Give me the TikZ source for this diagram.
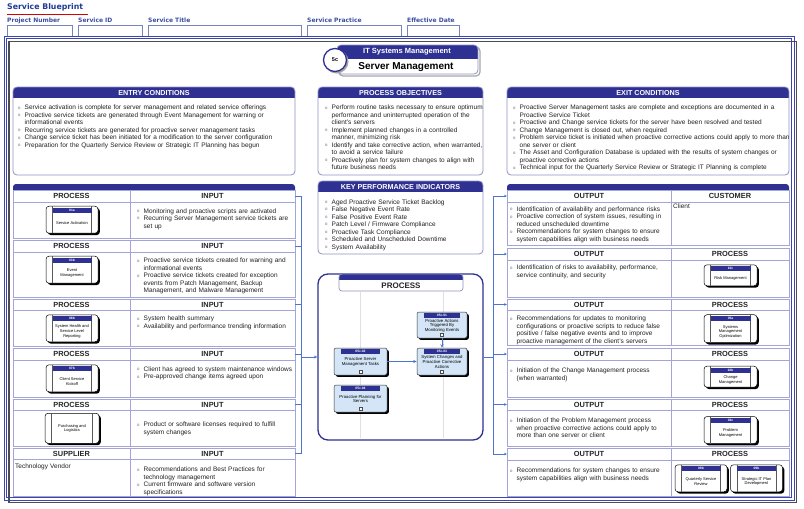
\documentclass[tikz,border=0pt]{standalone}
\usepackage{fontspec}
\setmainfont{Liberation Sans}
\newfontfamily\dvb{DejaVu Sans}
\usetikzlibrary{arrows.meta}
\definecolor{navy}{HTML}{2E3192}
\definecolor{lav}{HTML}{A3A5D8}
\definecolor{boxb}{HTML}{8F91C6}
\definecolor{hblue}{HTML}{1F3C96}
\definecolor{fieldc}{HTML}{3C4FA0}
\definecolor{connc}{HTML}{4F74D0}
\definecolor{txtc}{HTML}{222222}
\definecolor{bulc}{HTML}{666688}
\definecolor{cfill}{HTML}{D3E5F7}
\definecolor{framec}{HTML}{3B44B0}

\newcommand\bi{\par\noindent\hbox to 6.5pt{\raisebox{0.6pt}{\color{bulc}\fontsize{4.3}{4.3}\selectfont o}\hfil}}
\newcommand\nl{\hfil\break\hspace*{6.5pt}}

\newcommand\condbox[6]{%
  \begin{scope}
    \clip[rounded corners=4pt] (#2,#3) rectangle (#4,#5);
    \fill[white] (#2,#3) rectangle (#4,#5);
    \fill[navy] (#2,#3) rectangle (#4,#3+11);
  \end{scope}
  \draw[boxb, line width=0.8pt, rounded corners=4pt] (#2,#3) rectangle (#4,#5);
  \node[hd] (#1) at ({(#2+#4)/2},#3+5.8) {#6};
}

\newcommand\trow[6]{%
  \draw[tline] (\TXa,#2) rectangle (\TXb,#4);
  \draw[tline] (\TXa,#3) -- (\TXb,#3) (\TXd,#2) -- (\TXd,#4);
  \node[colhd] (#1-a) at ({(\TXa+\TXd)/2},{(#2+#3)/2}) {#5};
  \node[colhd] (#1-b) at ({(\TXd+\TXb)/2},{(#2+#3)/2}) {#6};
  \coordinate (#1-w) at (\TXa,{(#2+#3)/2});
  \coordinate (#1-e) at (\TXb,{(#2+#3)/2});
}

\newcommand\pbox[7]{%
  \begin{scope}[shift={(#2,#3)}]
    \pgfmathsetmacro\hw{#4/2}\pgfmathsetmacro\hh{#5/2}
    \fill[black, rounded corners=3pt] (-\hw+1.8,-\hh+1.8) rectangle (\hw+1.8,\hh+1.8);
    \node[draw=black, line width=0.5pt, fill=white, rounded corners=3pt, minimum width=#4pt, minimum height=#5pt, inner sep=0pt] (#1) at (0,0) {};
    \draw[black!65, line width=0.4pt] (-\hw+6.5,-\hh) -- (-\hw+6.5,\hh) (\hw-6.5,-\hh) -- (\hw-6.5,\hh);
    \ifx&#6&
      \node[ptext] (#1-t) at (0,0) {#7};
    \else
      \fill[navy] (-\hw+6.5,-\hh+1.3) rectangle (\hw-6.5,-\hh+6.3);
      \node[plabel] (#1-l) at (0,-\hh+3.8) {#6};
      \node[ptext] (#1-t) at (0,3.15) {#7};
    \fi
  \end{scope}}

\newcommand\cbox[7]{%
  \begin{scope}[shift={(#2,#3)}]
    \pgfmathsetmacro\hw{#4/2}\pgfmathsetmacro\hh{#5/2}
    \fill[black, rounded corners=2pt] (-\hw+1.8,-\hh+1.8) rectangle (\hw+1.8,\hh+1.8);
    \node[draw=black!80, line width=0.5pt, fill=cfill, rounded corners=2pt, minimum width=#4pt, minimum height=#5pt, inner sep=0pt] (#1) at (0,0) {};
    \fill[navy] (-\hw+7,-\hh+1.3) rectangle (\hw-7,-\hh+5.5);
    \node[plabel] (#1-l) at (0,-\hh+3.4) {#6};
    \node[ctext] (#1-t) at (0,0.6) {#7};
    \draw[black!70, line width=0.3pt, fill=white] (-1.6,\hh-4.4) rectangle (1.6,\hh-1.7);
  \end{scope}}

\begin{document}
\begin{tikzpicture}[x=1pt,y=-1pt,
  txt/.style={anchor=north west, inner sep=0pt, align=left, text width=#1, font=\fontsize{6.5}{7.5}\selectfont, text=txtc},
  txt/.default=170pt,
  hd/.style={font=\bfseries\fontsize{7.2}{7.2}\selectfont, text=white, inner sep=0pt},
  colhd/.style={font=\bfseries\fontsize{7.4}{7.4}\selectfont, text=black!85, inner sep=0pt},
  tline/.style={draw=lav, line width=0.7pt},
  conn/.style={draw=connc, line width=0.6pt},
  plabel/.style={font=\bfseries\fontsize{3.3}{3.3}\selectfont, text=white, inner sep=0pt},
  ptext/.style={font=\fontsize{4}{4.6}\selectfont, align=center, inner sep=0pt, text=black},
  ctext/.style={font=\fontsize{4.3}{4.7}\selectfont, align=center, inner sep=0pt, text=black},
  field/.style={draw=fieldc!70, line width=0.5pt, anchor=north west, minimum height=11pt, inner sep=0pt},
  flabel/.style={anchor=west, inner sep=0pt, font=\dvb\bfseries\fontsize{6}{6}\selectfont, text=fieldc},
  tip/.style={-{Stealth[length=3.5pt,width=3pt]}}
]
\useasboundingbox (0,0) rectangle (804,509);
\fill[white] (0,0) rectangle (804,509);

% ---------- header ----------
\node[anchor=west, inner sep=0pt, font=\dvb\bfseries\fontsize{7.8}{7.8}\selectfont, text=hblue] (sb) at (7,7.5) {Service Blueprint};
\draw[red!85!black, line width=0.9pt] (7,14.5) -- (88,14.5);
\foreach \x/\w/\lab/\nm in {7/65/Project Number/f1, 78/64/Service ID/f2, 148/153/Service Title/f3, 307/94/Service Practice/f4, 407/52/Effective Date/f5} {
  \node[flabel] (\nm-l) at (\x,20.5) {\lab};
  \node[field, minimum width={\w*1pt}] (\nm) at (\x,25) {};
}

% ---------- outer frame ----------
\draw[black!70, line width=1.6pt] (9,41.5) rectangle (796.5,502.5);
\draw[framec, line width=0.8pt] (4,36) rectangle (794,500);
\draw[framec, line width=0.8pt] (6.5,38.5) rectangle (791.5,497.5);

% ---------- title ----------
\draw[black!35, line width=1.2pt, rounded corners=4pt] (339,47) rectangle (480,76);
\begin{scope}
  \clip[rounded corners=4pt] (337,45) rectangle (478,74);
  \fill[white] (337,45) rectangle (478,74);
  \fill[navy] (337,45) rectangle (478,59);
\end{scope}
\draw[boxb, line width=0.8pt, rounded corners=4pt] (337,45) rectangle (478,74);
\fill[black!35] (336.5,61.5) circle (12);
\node[circle, draw=navy, line width=1.3pt, fill=white, minimum size=23pt, inner sep=0pt, font=\bfseries\fontsize{5.5}{5.5}\selectfont] (c5) at (335,60) {5c};
\node[font=\bfseries\fontsize{7.5}{7.5}\selectfont, text=white, inner sep=0pt] (t1) at (407,52) {IT Systems Management};
\node[font=\bfseries\fontsize{10}{10}\selectfont, text=black, inner sep=0pt] (t2) at (406,67) {Server Management};

% ---------- condition boxes ----------
\condbox{entry}{13}{87}{295}{175}{ENTRY CONDITIONS}
\node[txt=280pt] (entryt) at (18,102) {%
\bi Service activation is complete for server management and related service offerings
\bi Proactive service tickets are generated through Event Management for warning or\nl informational events
\bi Recurring service tickets are generated for proactive server management tasks
\bi Change service ticket has been initiated for a modification to the server configuration
\bi Preparation for the Quarterly Service Review or Strategic IT Planning has begun};

\condbox{obj}{318}{87}{483}{175}{PROCESS OBJECTIVES}
\node[txt=175pt] (objt) at (325,102) {%
\bi Perform routine tasks necessary to ensure optimum\nl performance and uninterrupted operation of the\nl client's servers
\bi Implement planned changes in a controlled\nl manner, minimizing risk
\bi Identify and take corrective action, when warranted,\nl to avoid a service failure
\bi Proactively plan for system changes to align with\nl future business needs};

\condbox{exit}{507}{87}{789}{175}{EXIT CONDITIONS}
\node[txt=290pt] (exitt) at (513,102) {%
\bi Proactive Server Management tasks are complete and exceptions are documented in a\nl Proactive Service Ticket
\bi Proactive and Change service tickets for the server have been resolved and tested
\bi Change Management is closed out, when required
\bi Problem service ticket is initiated when proactive corrective actions could apply to more than\nl one server or client
\bi The Asset and Configuration Database is updated with the results of system changes or\nl proactive corrective actions
\bi Technical input for the Quarterly Service Review or Strategic IT Planning is complete};

\condbox{kpi}{318}{181}{483}{254}{KEY PERFORMANCE INDICATORS}
\node[txt=160pt] (kpit) at (325,196.3) {%
\bi Aged Proactive Service Ticket Backlog
\bi False Negative Event Rate
\bi False Positive Event Rate
\bi Patch Level / Firmware Compliance
\bi Proactive Task Compliance
\bi Scheduled and Unscheduled Downtime
\bi System Availability};

% ---------- left table ----------
\begin{scope}
  \clip (13,184) rectangle (295,190);
  \fill[navy, rounded corners=3pt] (13,184) rectangle (295,196);
\end{scope}
\def\TXa{13}\def\TXd{130}\def\TXb{295}
\trow{lr1}{190}{202}{238}{PROCESS}{INPUT}
\trow{lr2}{240}{252}{297}{PROCESS}{INPUT}
\trow{lr3}{299}{310}{346}{PROCESS}{INPUT}
\trow{lr4}{348}{360}{397}{PROCESS}{INPUT}
\trow{lr5}{399}{410}{446}{PROCESS}{INPUT}
\trow{lr6}{448}{459}{496}{SUPPLIER}{INPUT}

\node[txt] (lt1) at (137,205.3) {\bi Monitoring and proactive scripts are activated
\bi Recurring Server Management service tickets are\nl set up};
\node[txt] (lt2) at (137,255) {\bi Proactive service tickets created for warning and\nl informational events
\bi Proactive service tickets created for exception\nl events from Patch Management, Backup\nl Management, and Malware Management};
\node[txt] (lt3) at (137,313) {\bi System health summary
\bi Availability and performance trending information};
\node[txt] (lt4) at (137,363.7) {\bi Client has agreed to system maintenance windows
\bi Pre-approved change items agreed upon};
\node[txt] (lt5) at (137,419) {\bi Product or software licenses required to fulfill\nl system changes};
\node[txt] (lt6) at (137,464) {\bi Recommendations and Best Practices for\nl technology management
\bi Current firmware and software version\nl specifications};
\node[txt=110pt] (supp) at (15,464) {Technology Vendor};

\pbox{lp1}{72}{219.7}{52}{27}{01a}{Service Activation}
\pbox{lp2}{72}{269.7}{52}{27}{03b}{Event\\Management}
\pbox{lp3}{72}{328.3}{52}{27}{08b}{System Health and\\Service Level\\Reporting}
\pbox{lp4}{72}{378.3}{52}{27}{07b}{Client Service\\Kickoff}
\pbox{lp5}{72}{428.3}{54}{30}{}{Purchasing and\\Logistics}

% ---------- right table ----------
\begin{scope}
  \clip (507,184) rectangle (789,190);
  \fill[navy, rounded corners=3pt] (507,184) rectangle (789,196);
\end{scope}
\def\TXa{507}\def\TXd{671}\def\TXb{789}
\trow{rr1}{190}{202}{245}{OUTPUT}{CUSTOMER}
\trow{rr2}{248}{260}{297}{OUTPUT}{PROCESS}
\trow{rr3}{299}{310}{345}{OUTPUT}{PROCESS}
\trow{rr4}{348}{360}{397}{OUTPUT}{PROCESS}
\trow{rr5}{399}{410}{446}{OUTPUT}{PROCESS}
\trow{rr6}{448}{460}{496}{OUTPUT}{PROCESS}

\node[txt] (rt1) at (510,203.7) {\bi Identification of availability and performance risks
\bi Proactive correction of system issues, resulting in\nl reduced unscheduled downtime
\bi Recommendations for system changes to ensure\nl system capabilities align with business needs};
\node[txt=100pt] (cust) at (673,203.7) {Client};
\node[txt] (rt2) at (510,262) {\bi Identification of risks to availability, performance,\nl service continuity, and security};
\node[txt] (rt3) at (510,313) {\bi Recommendations for updates to monitoring\nl configurations or proactive scripts to reduce false\nl positive / false negative events and to improve\nl proactive management of the client's servers};
\node[txt] (rt4) at (510,365) {\bi Initiation of the Change Management process\nl (when warranted)};
\node[txt] (rt5) at (510,415) {\bi Initiation of the Problem Management process\nl when proactive corrective actions could apply to\nl more than one server or client};
\node[txt] (rt6) at (510,465) {\bi Recommendations for system changes to ensure\nl system capabilities align with business needs};

\pbox{rp2}{730.5}{275.3}{53}{21}{10c}{Risk Management}
\pbox{rp3}{730.5}{328.7}{53}{28}{05a}{Systems\\Management\\Optimization}
\pbox{rp4}{730.5}{376.7}{53}{21}{10b}{Change\\Management}
\pbox{rp5}{730.5}{430}{53}{27}{03c}{Problem\\Management}
\pbox{rp6a}{701}{478.3}{52}{27}{09b}{Quarterly Service\\Review}
\pbox{rp6b}{756.5}{478.3}{52}{27}{09b}{Strategic IT Plan\\Development}

% ---------- central process ----------
\node[draw=navy, line width=1.3pt, rounded corners=10pt, minimum width=165pt, minimum height=166pt, inner sep=0pt] (proc) at (400.5,357) {};
\draw[black!12, line width=0.5pt] (360,292) -- (360,438) (443,292) -- (443,438);
\begin{scope}
  \clip[rounded corners=3pt] (339,274) rectangle (463,291);
  \fill[white] (339,274) rectangle (463,291);
  \fill[navy] (339,274) rectangle (463,280);
\end{scope}
\draw[boxb, line width=0.7pt, rounded corners=3pt] (339,274) rectangle (463,291);
\node[colhd, font=\bfseries\fontsize{8}{8}\selectfont] (ptitle) at (401,285.8) {PROCESS};

\cbox{c1}{442}{325}{50}{26}{05c.01}{Proactive Actions\\Triggered By\\Monitoring Events}
\cbox{c2}{360.5}{361.5}{53}{27}{05c.02}{Proactive Server\\Management Tasks}
\cbox{c3}{442}{361.5}{50}{27}{05c.03}{System Changes and\\Proactive Corrective\\Actions}
\cbox{c4}{360.5}{398.5}{53}{27}{05c.04}{Proactive Planning for\\Servers}
\draw[conn, tip] (c2) -- (c3);
\draw[conn, tip] (c1) -- (c3);

% ---------- connectors ----------
\foreach \i/\y in {1/196, 2/246, 3/304.5, 4/354, 5/404.5, 6/453.5} {
  \coordinate (lb\i) at (301,\y);
  \draw[conn] (lr\i-e) -- (lb\i);
}
\draw[conn] (lb1) -- (lb6);
\coordinate (lbm) at (301,357);
\draw[conn, tip] (lbm) -- (proc.west);

\foreach \i/\y in {1/196, 2/254, 3/304.5, 4/354, 5/404.5, 6/454} {
  \coordinate (rb\i) at (493,\y);
  \draw[conn, -{Stealth[length=3pt,width=2.6pt]}] (rb\i) -- (rr\i-w);
}
\draw[conn] (rb1) -- (rb6);
\coordinate (rbm) at (493,357);
\draw[conn] (proc.east) -- (rbm);
\end{tikzpicture}
\end{document}
